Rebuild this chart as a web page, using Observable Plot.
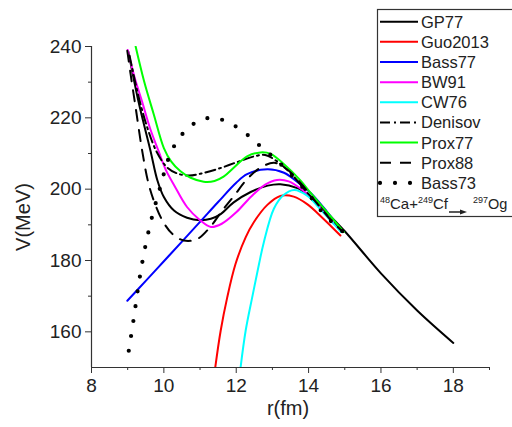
<!DOCTYPE html>
<html><head><meta charset="utf-8">
<script src="https://cdn.jsdelivr.net/npm/d3@7"></script>
<script src="https://cdn.jsdelivr.net/npm/@observablehq/plot@0.6"></script>
<style>
html,body{margin:0;padding:0;background:#fff;}
#chart{width:512px;height:427px;}
</style></head><body><div id="chart"></div>
<script>
// ---- data: [r (fm), V (MeV)] ----
const GP77 = [[9.02,238.5],[9.3,224.5],[9.63,210.8],[9.82,202.5],[10.0,197.8],[10.28,194.0],[10.64,192.0],[11.0,191.3],[11.3,191.7],[11.57,193.0],[11.93,196.3],[12.4,199.2],[12.87,201.0],[13.22,201.4],[13.69,200.3],[14.0,198.3],[14.5,193.5],[15.0,188.2],[16.0,176.4],[17.0,166.0],[18.0,156.9]];
const Guo2013 = [[11.42,150],[11.57,160.3],[11.75,169.6],[11.98,179],[12.26,186.5],[12.49,190.8],[12.86,195.6],[13.22,198.1],[13.59,197.9],[13.96,195.8],[14.4,191.8],[14.88,187]];
const Bass77 = [[8.99,168.7],[9.5,174.3],[10.0,179.8],[10.5,185.3],[11.05,191.4],[11.5,196.4],[12.0,201.8],[12.3,204.2],[12.86,205.6],[13.32,204.6],[13.69,202],[14.05,199],[14.5,193.8],[14.93,188.2]];
const BW91 = [[9.0,239],[9.2,231],[9.4,224.5],[9.62,217],[9.86,210.5],[10.05,205.5],[10.28,201.2],[10.64,195],[11.0,191.3],[11.3,189.4],[11.6,190.3],[12.0,193.5],[12.4,197.8],[12.8,201.3],[13.13,202.6],[13.45,202.2],[13.8,200],[14.2,196.3],[14.6,191.5],[14.93,188]];
const CW76 = [[12.12,150],[12.26,160.3],[12.44,169.6],[12.63,179],[12.76,185],[13.04,194.5],[13.3,198.3],[13.6,199.8],[13.96,198.2],[14.4,193.5],[14.9,188]];
const Denisov = [[9.05,237.5],[9.3,226],[9.55,217],[9.8,210.5],[10.1,206],[10.4,204.3],[10.7,203.8],[11.0,204.3],[11.5,205.7],[12.0,207.5],[12.5,209.2],[12.8,209.6],[13.1,208],[13.5,204.5],[14.0,198.6],[14.5,193.4],[14.95,188]];
const Prox77 = [[9.22,240],[9.45,230.4],[9.72,221],[10.0,211.5],[10.2,207.8],[10.46,205],[10.74,203.2],[11.1,202.1],[11.4,202.3],[11.65,203.5],[11.93,206],[12.3,209.2],[12.67,210.3],[12.95,209.9],[13.32,207],[13.78,202.4],[14.05,199],[14.5,193.7],[14.97,188]];
const Prox88 = [[8.99,238.8],[9.08,232.3],[9.22,222.9],[9.4,210.8],[9.58,201.4],[9.77,195.5],[10.0,190.5],[10.25,187.3],[10.55,185.6],[10.92,186],[11.29,189.5],[11.6,193.8],[11.93,198],[12.3,202.8],[12.67,206],[13.05,207.4],[13.41,205.5],[13.8,201.5],[14.2,196.4],[14.6,191.5],[14.95,188]];
const Bass73 = [[9.03,154.7],[9.17,163.9],[9.3,173.1],[9.45,182],[9.65,191.3],[9.9,200.6],[10.14,208.9],[10.35,213.2],[10.6,216.4],[10.97,219.2],[11.4,220],[11.8,218.6],[12.17,216.4],[12.49,213.6],[12.81,210.8],[13.13,208],[13.5,204.2],[14.0,198.6],[14.3,194.5],[14.61,191.1],[14.97,187.9]];

const seriesNames = ["GP77","Guo2013","Bass77","BW91","CW76","Denisov","Prox77","Prox88","Bass73"];
const seriesData = [GP77, Guo2013, Bass77, BW91, CW76, Denisov, Prox77, Prox88, Bass73];

const xTicks = [8,10,12,14,16,18];
const xMinor = [9,11,13,15,17,19];
const yTicks = [160,180,200,220,240];
const yMinor = [170,190,210,230];
const xTitle = "r(fm)";
const yTitle = "V(MeV)";

// ---- styles (kept separate from the data) ----
const font = "'Liberation Sans', Arial, Helvetica, sans-serif";
const styleOf = {
  GP77:    {stroke:"#000000"},
  Guo2013: {stroke:"#ff0000"},
  Bass77:  {stroke:"#0000ff"},
  BW91:    {stroke:"#ff00ff"},
  CW76:    {stroke:"#00ffff"},
  Denisov: {stroke:"#000000", strokeDasharray:"10,4,2,4"},
  Prox77:  {stroke:"#00ff00"},
  Prox88:  {stroke:"#000000", strokeDasharray:"11,9"},
  Bass73:  {stroke:"#000000", strokeDasharray:"0,15", strokeWidth:4.2, strokeLinecap:"round"}
};

const lineMarks = seriesNames.map((name, i) =>
  Plot.line(seriesData[i], {
    x: d => d[0], y: d => d[1],
    curve: "catmull-rom", strokeWidth: 2, clip: true,
    ...styleOf[name]
  })
);

const chart = Plot.plot({
  width: 512, height: 427,
  marginLeft: 91, marginRight: 23, marginTop: 46, marginBottom: 60,
  x: {domain: [8, 19]},
  y: {domain: [150, 240]},
  style: {fontFamily: font, fontSize: "19px", color: "#222", background: "white"},
  marks: [
    ...lineMarks,
    Plot.ruleX([8], {y1: 150, y2: 240, stroke: "#333", strokeWidth: 1.2}),
    Plot.ruleY([150], {x1: 8, x2: 19, stroke: "#333", strokeWidth: 1.2}),
    Plot.axisX(xTicks, {tickSize: 6, tickPadding: 5, label: null, stroke: "#333", fill: "#222", fontSize: 19}),
    Plot.axisX(xMinor, {tickSize: 3, text: null, label: null, stroke: "#333"}),
    Plot.axisY(yTicks, {tickSize: 6, tickPadding: 4, label: null, stroke: "#333", fill: "#222", fontSize: 19}),
    Plot.axisY(yMinor, {tickSize: 3, text: null, label: null, stroke: "#333"})
  ]
});
document.getElementById("chart").appendChild(chart);

// ---- axis titles and legend ----
const svg = d3.select(chart);
svg.append("text").attr("x", 288).attr("y", 415).attr("text-anchor", "middle")
  .attr("font-family", font).attr("font-size", 20).attr("fill", "#222").text(xTitle);
svg.append("text").attr("transform", "translate(30,217) rotate(-90)").attr("text-anchor", "middle")
  .attr("font-family", font).attr("font-size", 20).attr("fill", "#222").text(yTitle);

const lg = svg.append("g").attr("font-family", font).attr("font-size", 16.5).attr("fill", "#222")
  .attr("text-anchor", "start");
lg.append("rect").attr("x", 377.5).attr("y", 9.5).attr("width", 160).attr("height", 207)
  .attr("fill", "white").attr("stroke", "#333").attr("stroke-width", 1.2);
seriesNames.forEach((name, i) => {
  const cy = 21.7 + 20.15 * i;
  const s = styleOf[name];
  const ln = lg.append("line").attr("x1", 380).attr("x2", 418).attr("y1", cy).attr("y2", cy)
    .attr("stroke", s.stroke).attr("stroke-width", s.strokeWidth || 2);
  if (s.strokeDasharray) ln.attr("stroke-dasharray", s.strokeDasharray);
  if (s.strokeLinecap) ln.attr("stroke-linecap", s.strokeLinecap);
  lg.append("text").attr("x", 421).attr("y", cy + 6).text(name);
});
const rx = lg.append("text").attr("x", 380).attr("y", 209).attr("font-size", 15);
rx.append("tspan").attr("font-size", 9).attr("dy", -6).text("48");
rx.append("tspan").attr("dy", 6).text("Ca+");
rx.append("tspan").attr("font-size", 9).attr("dy", -6).text("249");
rx.append("tspan").attr("dy", 6).text("Cf");
lg.append("line").attr("x1", 449).attr("x2", 461).attr("y1", 212).attr("y2", 212).attr("stroke", "#222").attr("stroke-width", 1.5);
lg.append("path").attr("d", "M460,209.5 L467,212 L460,214.5 Z").attr("fill", "#222");
const px = lg.append("text").attr("x", 473).attr("y", 209).attr("font-size", 14.5);
px.append("tspan").attr("font-size", 9).attr("dy", -6).text("297");
px.append("tspan").attr("dy", 6).text("Og");
</script></body></html>
